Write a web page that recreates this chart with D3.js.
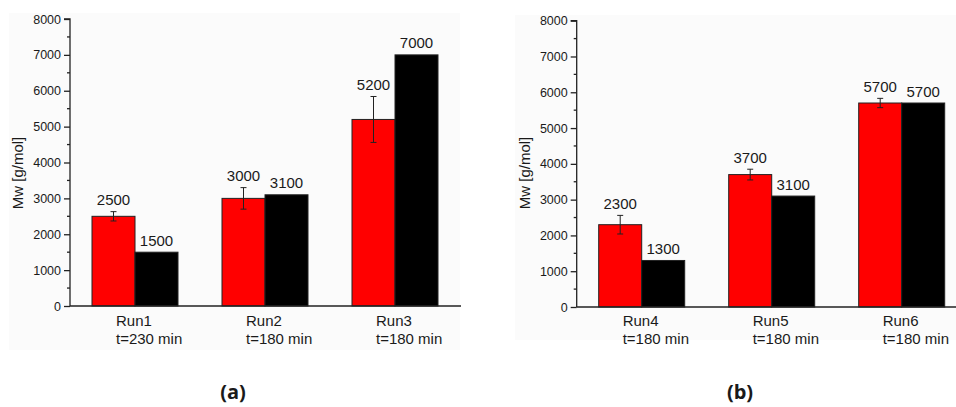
<!DOCTYPE html>
<html>
<head>
<meta charset="utf-8">
<script src="https://cdn.jsdelivr.net/npm/d3@7"></script>
<style>
  body { margin: 0; background: #fff; }
  text { font-family: "Liberation Sans", Arial, sans-serif; fill: #1a1a1a; }
</style>
</head>
<body>
<svg id="chart" width="956" height="407"></svg>
<script>
// panel (a)
const runsA = ["Run1", "Run2", "Run3"];
const timesA = ["t=230 min", "t=180 min", "t=180 min"];
const redA = [2500, 3000, 5200];
const redErrA = [130, 300, 640];
const blackA = [1500, 3100, 7000];

// panel (b)
const runsB = ["Run4", "Run5", "Run6"];
const timesB = ["t=180 min", "t=180 min", "t=180 min"];
const redB = [2300, 3700, 5700];
const redErrB = [260, 150, 130];
const blackB = [1300, 3100, 5700];

const yTicks = [0, 1000, 2000, 3000, 4000, 5000, 6000, 7000, 8000];

const svg = d3.select("#chart");

const drawPanel = (opt) => {
  const { runs, times, red, err, black, x0, yTop, yBot, tag, tagX, bg } = opt;
  const g = svg.append("g");

  // faint plot background
  g.append("rect")
    .attr("x", bg[0]).attr("y", bg[1])
    .attr("width", bg[2]).attr("height", bg[3])
    .attr("fill", "#fbfbfb");

  const x = d3.scaleBand().domain(runs).range([x0, x0 + 390]);
  const y = d3.scaleLinear().domain([0, 8000]).range([yBot, yTop]);
  const bw = 43;

  // bars
  const rows = runs.map((r, i) => ({ r, red: red[i], err: err[i], black: black[i] }));
  const grp = g.selectAll(".grp").data(rows).enter().append("g");
  const cx = (d) => x(d.r) + x.bandwidth() / 2;

  grp.append("rect")
    .attr("x", (d) => cx(d) - bw)
    .attr("y", (d) => y(d.red))
    .attr("width", bw)
    .attr("height", (d) => y(0) - y(d.red))
    .attr("fill", "#ff0000")
    .attr("stroke", "#222")
    .attr("stroke-width", 1);

  grp.append("rect")
    .attr("x", (d) => cx(d))
    .attr("y", (d) => y(d.black))
    .attr("width", bw)
    .attr("height", (d) => y(0) - y(d.black))
    .attr("fill", "#000")
    .attr("stroke", "#222")
    .attr("stroke-width", 1);

  // error bars on red
  const ex = (d) => cx(d) - bw / 2;
  grp.append("line")
    .attr("x1", ex).attr("x2", ex)
    .attr("y1", (d) => y(d.red + d.err))
    .attr("y2", (d) => y(d.red - d.err))
    .attr("stroke", "#222").attr("stroke-width", 1);
  [1, -1].forEach((s) => {
    grp.append("line")
      .attr("x1", (d) => ex(d) - 3).attr("x2", (d) => ex(d) + 3)
      .attr("y1", (d) => y(d.red + s * d.err))
      .attr("y2", (d) => y(d.red + s * d.err))
      .attr("stroke", "#222").attr("stroke-width", 1);
  });

  // value labels
  grp.append("text")
    .attr("x", ex)
    .attr("y", (d) => y(d.red + d.err) - 6.5)
    .attr("text-anchor", "middle")
    .style("font-size", "15px")
    .text((d) => d.red);
  grp.append("text")
    .attr("x", (d) => cx(d) + bw / 2)
    .attr("y", (d) => y(d.black) - 6.5)
    .attr("text-anchor", "middle")
    .style("font-size", "15px")
    .text((d) => d.black);

  // y axis
  const yAxis = d3.axisLeft(y).tickValues(yTicks).tickSize(6).tickPadding(3).tickFormat(d3.format("d"));
  const ya = g.append("g").attr("transform", `translate(${x0},0)`).call(yAxis);
  ya.select(".domain").attr("stroke", "#222").attr("stroke-width", 1.3).attr("d", `M-6,${yTop}H0V${yBot}`);
  ya.selectAll(".tick line").attr("stroke", "#222").attr("stroke-width", 1.3);
  ya.selectAll("text").style("font-size", "12.5px").style("font-family", "Liberation Sans, Arial, sans-serif").attr("fill", "#1a1a1a");

  // minor ticks
  const minor = d3.range(500, 8000, 1000);
  g.selectAll(".minor").data(minor).enter().append("line")
    .attr("x1", x0 - 3).attr("x2", x0)
    .attr("y1", (d) => y(d)).attr("y2", (d) => y(d))
    .attr("stroke", "#222").attr("stroke-width", 1.3);

  // x axis line
  g.append("line")
    .attr("x1", x0).attr("x2", x0 + 391)
    .attr("y1", yBot).attr("y2", yBot)
    .attr("stroke", "#222").attr("stroke-width", 1.3);

  // category labels
  grp.append("text")
    .attr("x", (d) => cx(d) - 19)
    .attr("y", 326)
    .style("font-size", "15px")
    .text((d) => d.r);
  grp.append("text")
    .attr("x", (d) => cx(d) - 19)
    .attr("y", 344)
    .style("font-size", "15px")
    .text((d, i) => times[i]);

  // y title
  g.append("text")
    .attr("transform", `translate(${x0 - 47},173) rotate(-90)`)
    .attr("text-anchor", "middle")
    .style("font-size", "15px")
    .text("Mw [g/mol]");

  // panel tag
  g.append("text")
    .attr("x", tagX).attr("y", 399)
    .attr("text-anchor", "middle")
    .style("font-size", "20px")
    .style("font-weight", "bold")
    .style("font-family", "'Open Sans', 'Noto Sans', sans-serif")
    .text(tag);
};

drawPanel({
  runs: runsA, times: timesA, red: redA, err: redErrA, black: blackA,
  x0: 70, yTop: 19, yBot: 306, tag: "(a)", tagX: 233, bg: [9, 13, 451, 337]
});
drawPanel({
  runs: runsB, times: timesB, red: redB, err: redErrB, black: blackB,
  x0: 576.7, yTop: 20.7, yBot: 307, tag: "(b)", tagX: 740, bg: [515, 15, 441, 325]
});
</script>
</body>
</html>
